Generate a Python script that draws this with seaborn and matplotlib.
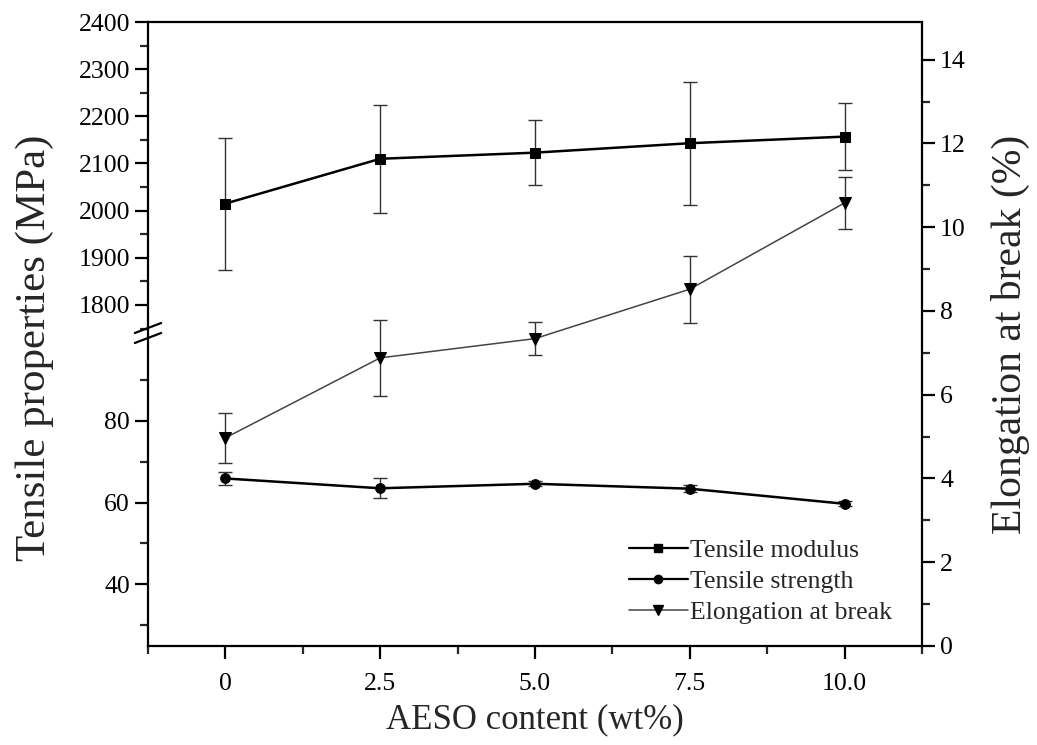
import matplotlib
matplotlib.use("Agg")
import matplotlib.pyplot as plt
from matplotlib.lines import Line2D
from matplotlib.ticker import FixedLocator
import numpy as np
import pandas as pd
import seaborn as sns

# ---- data ----
aeso = [0, 2.5, 5.0, 7.5, 10.0]
x_labels = ["0", "2.5", "5.0", "7.5", "10.0"]
modulus = [2015, 2110, 2123, 2143, 2157]
modulus_err = [140, 114, 69, 130, 71]
strength = [65.9, 63.5, 64.6, 63.4, 59.7]
strength_err = [1.6, 2.5, 0.6, 0.8, 0.6]
elongation = [4.97, 6.88, 7.34, 8.52, 10.58]
elongation_err = [0.60, 0.90, 0.40, 0.80, 0.62]
series_names = ["Tensile modulus", "Tensile strength", "Elongation at break"]

sns.set_theme(style="ticks")
plt.rcParams["font.family"] = ["Liberation Serif", "DejaVu Serif"]
plt.rcParams["axes.linewidth"] = 1.6

W, H = 1037, 745
fig = plt.figure(figsize=(W / 100, H / 100), dpi=100)
fig.patch.set_facecolor("white")

left_px, right_px, top_px, bot_px, brk_px = 148, 922, 22, 646, 333
L = left_px / W
R = right_px / W
T = 1 - top_px / H
B = 1 - bot_px / H
M = 1 - brk_px / H

ax_bot = fig.add_axes([L, B, R - L, M - B])
ax_top = fig.add_axes([L, M, R - L, T - M])
ax_fr = fig.add_axes([L, B, R - L, T - B])

xlim = (-1.25, 11.25)
for a in (ax_bot, ax_top, ax_fr):
    a.set_xlim(*xlim)
    a.patch.set_visible(False)

tick_kw = dict(direction="out", labelsize=18.5, colors="black", width=1.6)
err_kw = dict(fmt="none", ecolor="#333333", elinewidth=1.0, capsize=5, capthick=1.0, zorder=2)

# --- upper (modulus) ---
df_mod = pd.DataFrame({"x": aeso, "y": modulus})
sns.lineplot(data=df_mod, x="x", y="y", ax=ax_top, color="black", lw=1.8,
             marker="s", markersize=6.5, markeredgecolor="black", zorder=3)
ax_top.errorbar(aeso, modulus, yerr=modulus_err, **err_kw)
ax_top.set_ylim(1740.6, 2400)
ax_top.yaxis.set_major_locator(FixedLocator([1800, 1900, 2000, 2100, 2200, 2300, 2400]))
ax_top.yaxis.set_minor_locator(FixedLocator([1750, 1850, 1950, 2050, 2150, 2250, 2350]))

# --- lower (strength) ---
df_str = pd.DataFrame({"x": aeso, "y": strength})
sns.lineplot(data=df_str, x="x", y="y", ax=ax_bot, color="black", lw=1.8,
             marker="o", markersize=7, markeredgecolor="black", zorder=3)
ax_bot.errorbar(aeso, strength, yerr=strength_err, **err_kw)
ax_bot.set_ylim(24.9, 101.5)
ax_bot.yaxis.set_major_locator(FixedLocator([40, 60, 80]))
ax_bot.yaxis.set_minor_locator(FixedLocator([30, 50, 70, 90]))

for a in (ax_top, ax_bot):
    for s in a.spines.values():
        s.set_visible(False)
    a.set_xlabel("")
    a.set_ylabel("")
    a.tick_params(axis="x", which="both", bottom=False, labelbottom=False)
    a.tick_params(axis="y", which="major", length=9.5, **tick_kw)
    a.tick_params(axis="y", which="minor", length=5.8, left=True, width=1.6)

# --- frame / elongation on right axis ---
df_el = pd.DataFrame({"x": aeso, "y": elongation})
sns.lineplot(data=df_el, x="x", y="y", ax=ax_fr, color="#444444", lw=1.1,
             marker="v", markersize=8, markeredgecolor="black",
             markerfacecolor="black", zorder=3)
ax_fr.errorbar(aeso, elongation, yerr=elongation_err, **err_kw)
ax_fr.set_ylim(0, 14.9)
ax_fr.yaxis.tick_right()
ax_fr.yaxis.set_label_position("right")
ax_fr.yaxis.set_major_locator(FixedLocator([0, 2, 4, 6, 8, 10, 12, 14]))
ax_fr.yaxis.set_minor_locator(FixedLocator([1, 3, 5, 7, 9, 11, 13]))
ax_fr.xaxis.set_major_locator(FixedLocator(aeso))
ax_fr.set_xticklabels(x_labels)
ax_fr.xaxis.set_minor_locator(FixedLocator([-1.25, 1.25, 3.75, 6.25, 8.75, 11.25]))
ax_fr.tick_params(axis="both", which="major", length=9.5, **tick_kw)
ax_fr.tick_params(axis="both", which="minor", length=5.8, width=1.6)
ax_fr.tick_params(axis="y", which="both", left=False, right=True, labelleft=False, labelright=True)
ax_fr.tick_params(axis="x", which="major", pad=10)
for s in ax_fr.spines.values():
    s.set_visible(True)
    s.set_color("black")
    s.set_linewidth(1.6)

ax_fr.set_xlabel("AESO content (wt%)", fontsize=25, labelpad=6)
ax_fr.set_ylabel("Elongation at break (%)", fontsize=30, labelpad=18)
fig.text(35 / W, 1 - 348 / H, "Tensile properties (MPa)", rotation=90,
         fontsize=31, ha="center", va="center")

# axis break marks on the left spine
ybrk = (M - B) / (T - B)
for dy in (0.008, -0.008):
    ax_fr.plot([-0.017, 0.017], [ybrk + dy - 0.008, ybrk + dy + 0.008],
               transform=ax_fr.transAxes, color="black", lw=1.6, clip_on=False)

# legend
handles = [
    Line2D([], [], color="black", lw=1.6, marker="s", markersize=6),
    Line2D([], [], color="black", lw=1.6, marker="o", markersize=6),
    Line2D([], [], color="#444444", lw=1.1, marker="v", markersize=7, markerfacecolor="black",
           markeredgecolor="black"),
]
leg = ax_fr.legend(handles, series_names, loc="lower right", bbox_to_anchor=(0.975, 0.018),
                   frameon=False, fontsize=18.5, handlelength=2.3, handletextpad=0.1,
                   labelspacing=0.32, borderaxespad=0.0)

fig.savefig("out.png", dpi=100)
